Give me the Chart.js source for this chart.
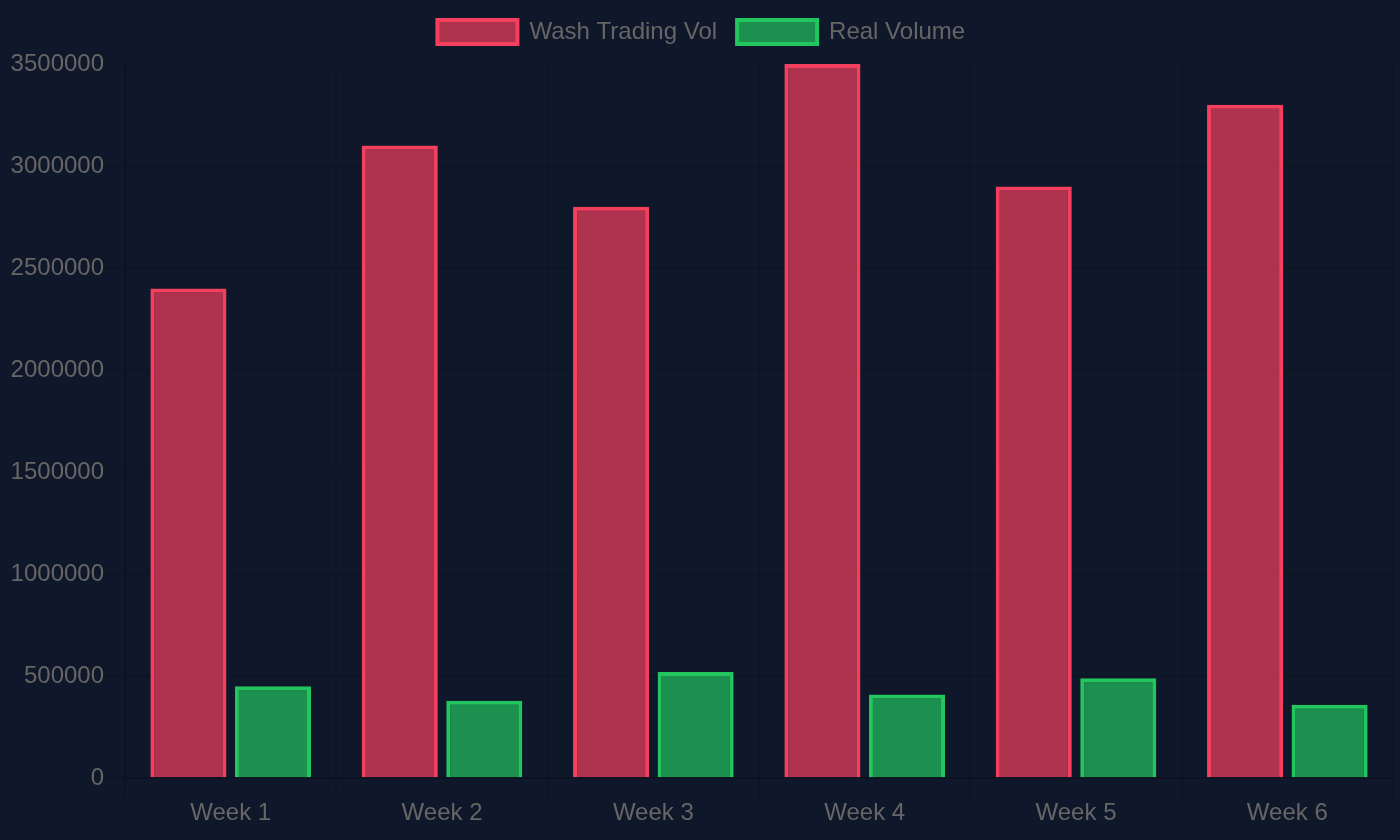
<!DOCTYPE html>
<html>
<head>
<meta charset="utf-8">
<script src="https://cdn.jsdelivr.net/npm/chart.js@4/dist/chart.umd.min.js"></script>
<style>
html,body{margin:0;padding:0;background:#0f172a;}
#wrap{width:1400px;height:840px;}
</style>
</head>
<body>
<div id="wrap"><canvas id="c" width="1400" height="840"></canvas></div>
<script>
const categories = ["Week 1","Week 2","Week 3","Week 4","Week 5","Week 6"];
const washVolume = [2400000, 3100000, 2800000, 3500000, 2900000, 3300000];
const realVolume = [450000, 380000, 520000, 410000, 490000, 360000];

Chart.defaults.font.size = 24;
Chart.defaults.font.family = "'Liberation Sans', Arial, sans-serif";
Chart.defaults.color = '#666';

const legendGap = {
  id: 'legendGap',
  beforeInit(chart) {
    const orig = chart.legend.fit;
    chart.legend.fit = function () {
      orig.bind(chart.legend)();
      this.height += 10;
    };
  }
};

new Chart(document.getElementById('c'), {
  type: 'bar',
  data: {
    labels: categories,
    datasets: [
      { label: 'Wash Trading Vol', data: washVolume, backgroundColor: 'rgba(244,63,94,0.7)', borderColor: '#f43f5e', borderWidth: 4 },
      { label: 'Real Volume', data: realVolume, backgroundColor: 'rgba(34,197,94,0.7)', borderColor: '#22c55e', borderWidth: 4 }
    ]
  },
  plugins: [legendGap],
  options: {
    responsive: false,
    animation: false,
    devicePixelRatio: 1,
    layout: { padding: { left: 9.6, right: 7, bottom: 11, top: 0 } },
    plugins: {
      legend: { labels: { boxWidth: 80, padding: 20 } },
      tooltip: { enabled: false }
    },
    scales: {
      x: { grid: { tickLength: 20, lineWidth: 2 }, border: { width: 2 }, ticks: { padding: 1 } },
      y: { beginAtZero: true, grid: { tickLength: 20, lineWidth: 2 }, border: { width: 2 }, ticks: { padding: 1, callback: (v) => String(v) } }
    }
  }
});
</script>
</body>
</html>
